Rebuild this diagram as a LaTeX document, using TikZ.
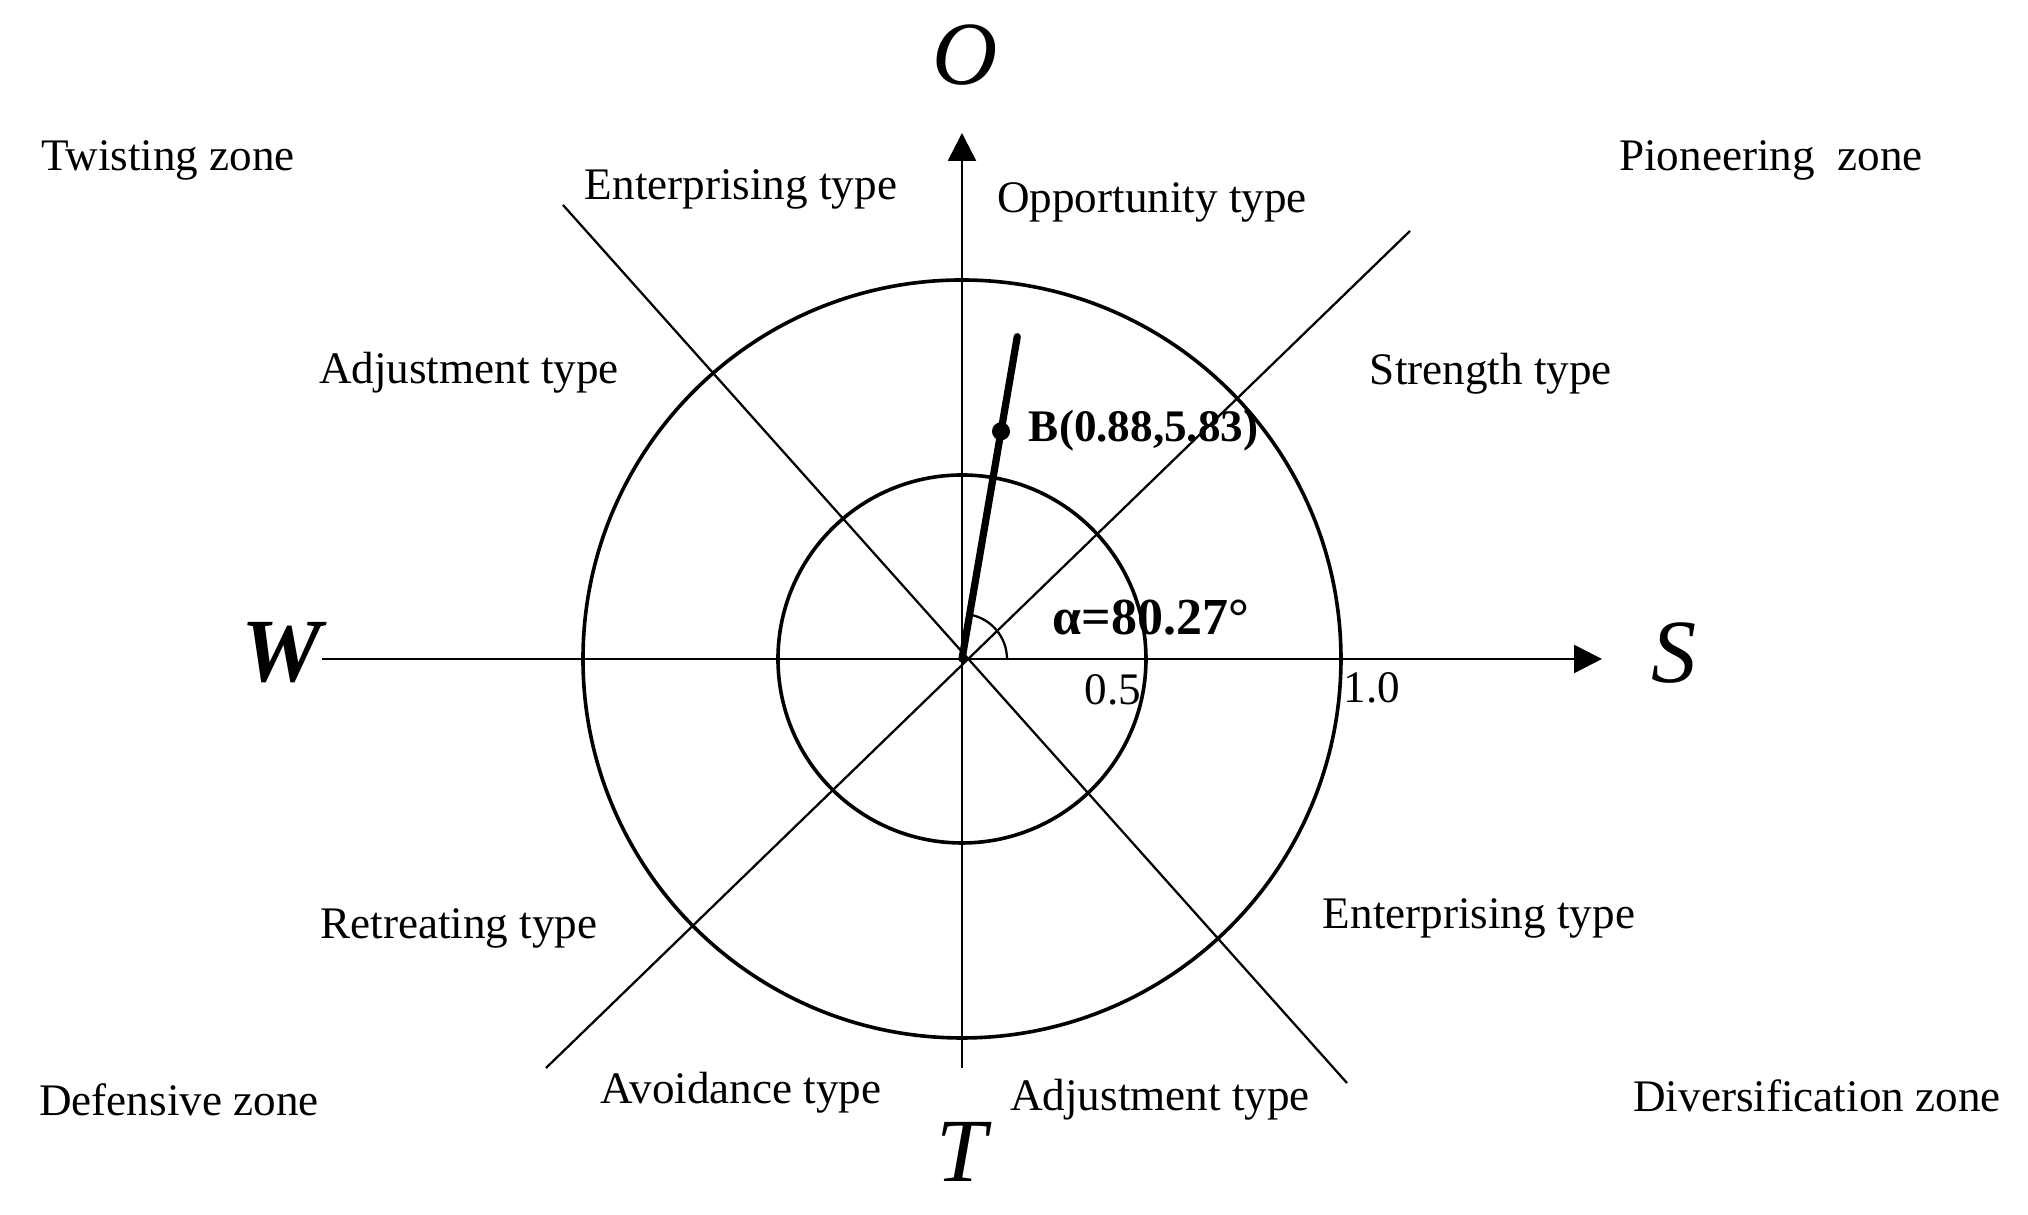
\documentclass[tikz,border=0pt]{standalone}
\usepackage{fontspec}
\setmainfont{Liberation Serif}
\usepackage{tikz}
\usetikzlibrary{arrows.meta, positioning, calc}

\begin{document}
\begin{tikzpicture}[
  x=0.2215pt, y=0.2215pt,
  zone/.style={font=\fontsize{10}{12}\selectfont, inner sep=0pt},
  typelabel/.style={font=\fontsize{10}{12}\selectfont, inner sep=0pt},
  pole/.style={font=\fontsize{20}{24}\selectfont\itshape, inner sep=0pt},
  tick/.style={font=\fontsize{10}{12}\selectfont, inner sep=0pt},
  axis/.style={-{Triangle[length=6.2pt, width=6.2pt]}, line width=0.55pt},
  divider/.style={line width=0.5pt},
  ring/.style={line width=0.8pt},
  vector/.style={line width=1.6pt, line cap=round}
]
  \useasboundingbox (-962,-556) rectangle (1066,659);

  % axes and dividing lines
  \coordinate (center) at (0,0);
  \coordinate (w_end) at (-640,0);
  \coordinate (s_end) at (640,0);
  \coordinate (t_end) at (0,-409);
  \coordinate (o_end) at (0,526);
  \coordinate (nw_end) at (-399,454);
  \coordinate (se_end) at (385,-424);
  \coordinate (ne_end) at (448,428);
  \coordinate (sw_end) at (-416,-409);

  \draw[ring] (center) circle[radius=184];
  \draw[ring] (center) circle[radius=379];
  \draw[divider] (nw_end) -- (se_end);
  \draw[divider] (sw_end) -- (ne_end);
  \draw[axis] (w_end) -- (s_end);
  \draw[axis] (t_end) -- (o_end);

  % strategy vector
  \coordinate (vec_end) at (80.27:327);
  \coordinate (pt_b) at (80.27:231);
  \draw[vector] (center) -- (vec_end);
  \fill (pt_b) circle[radius=2pt];
  \draw[divider] (45,0) arc[start angle=0, end angle=80.27, radius=45];

  % poles
  \node[pole] (o_label) at (3,604) {O};
  \node[pole] (s_label) at (712,6) {S};
  \node[pole, font=\fontsize{20}{24}\selectfont\bfseries\itshape] (w_label) at (-680,6) {W};
  \node[pole] (t_label) at (0,-493) {T};

  % zones
  \node[zone] (twisting) at (-794,499) {Twisting zone};
  \node[zone] (pioneering) at (809,499) {Pioneering\ \ zone};
  \node[zone] (defensive) at (-783,-441) {Defensive zone};
  \node[zone] (diversification) at (855,-437) {Diversification zone};

  % types
  \node[typelabel] (enterprising_top) at (-221,470) {Enterprising type};
  \node[typelabel] (opportunity) at (190,457) {Opportunity type};
  \node[typelabel] (adjustment_top) at (-493,286) {Adjustment type};
  \node[typelabel] (strength) at (529,285) {Strength type};
  \node[typelabel] (retreating) at (-503,-269) {Retreating type};
  \node[typelabel] (enterprising_low) at (517,-259) {Enterprising type};
  \node[typelabel] (avoidance) at (-221,-434) {Avoidance type};
  \node[typelabel] (adjustment_low) at (198,-441) {Adjustment type};

  % values
  \node[tick, font=\fontsize{10}{12}\selectfont\bfseries, anchor=west] (b_label) at (66,228) {B(0.88,5.83)};
  \node[tick, font=\fontsize{11.5}{14}\selectfont\bfseries] (alpha_label) at (189,41) {α=80.27°};
  \node[tick] (half) at (151,-31) {0.5};
  \node[tick] (one) at (410,-29) {1.0};
\end{tikzpicture}
\end{document}
